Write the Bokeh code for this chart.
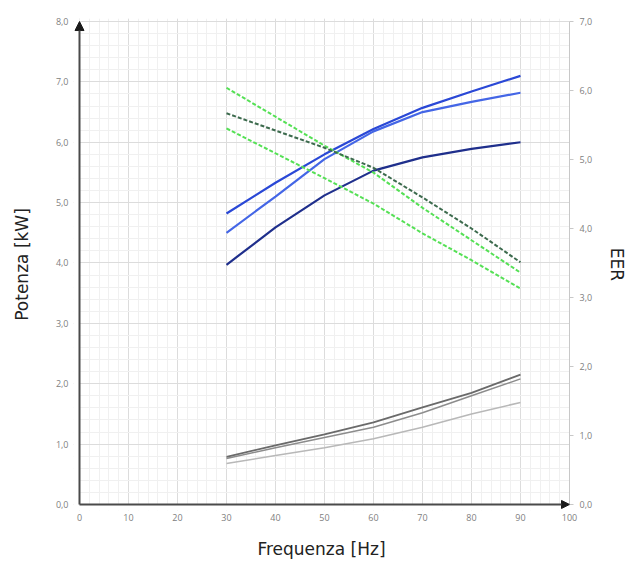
from bokeh.plotting import figure
from bokeh.models import (Range1d, LinearAxis, FixedTicker, Arrow, NormalHead,
                          BoxAnnotation)
from bokeh.embed import file_html
from bokeh.resources import INLINE

# ---- data ----
freq = [30, 40, 50, 60, 70, 80, 90]

# capacities / power [kW] (left axis)
blue_top = [4.82, 5.33, 5.80, 6.22, 6.57, 6.84, 7.10]
blue_mid = [4.50, 5.10, 5.72, 6.18, 6.50, 6.67, 6.82]
blue_dark = [3.97, 4.59, 5.12, 5.53, 5.75, 5.89, 6.00]

gray_dark = [0.79, 0.98, 1.16, 1.36, 1.61, 1.85, 2.15]
gray_mid = [0.76, 0.94, 1.11, 1.28, 1.52, 1.80, 2.08]
gray_light = [0.68, 0.81, 0.94, 1.09, 1.28, 1.50, 1.69]

# EER (right axis)
eer_green_top = [6.04, 5.62, 5.20, 4.81, 4.30, 3.83, 3.36]
eer_dark = [5.67, 5.42, 5.17, 4.88, 4.45, 4.00, 3.51]
eer_green_bot = [5.45, 5.09, 4.73, 4.36, 3.93, 3.54, 3.13]

x_ticks = [0, 10, 20, 30, 40, 50, 60, 70, 80, 90, 100]
left_ticks = [0, 1, 2, 3, 4, 5, 6, 7, 8]
left_labels = ["0,0", "1,0", "2,0", "3,0", "4,0", "5,0", "6,0", "7,0", "8,0"]
right_ticks = [0, 1, 2, 3, 4, 5, 6, 7]
right_labels = ["0,0", "1,0", "2,0", "3,0", "4,0", "5,0", "6,0", "7,0"]

TICK_FONT = "Open Sans"
TITLE_FONT = "DejaVu Sans"

# small margins around the axes so the arrowheads are not clipped
X_PAD = 6 / 4.9
Y_PAD_LOW = 0.1
Y_PAD_HIGH = 0.05
EER_SCALE = 7 / 8

p = figure(width=631, height=563, output_backend="svg", toolbar_location=None,
           x_range=Range1d(-X_PAD, 100),
           y_range=Range1d(-Y_PAD_LOW, 8 + Y_PAD_HIGH),
           min_border_left=73, min_border_right=62, min_border_top=18,
           min_border_bottom=53)
p.outline_line_color = None
p.background_fill_color = "white"
p.border_fill_color = "white"
p.extra_y_ranges = {"eer": Range1d(-Y_PAD_LOW * EER_SCALE,
                                   (8 + Y_PAD_HIGH) * EER_SCALE)}

# grid
p.xgrid.ticker = FixedTicker(ticks=x_ticks,
                             minor_ticks=[v for v in range(0, 101, 2)])
p.ygrid.ticker = FixedTicker(ticks=left_ticks,
                             minor_ticks=[i / 5 for i in range(0, 41)])
for g in (p.xgrid, p.ygrid):
    g.grid_line_color = "#dcdcdc"
    g.grid_line_width = 1
    g.minor_grid_line_color = "#f0f0f0"
    g.minor_grid_line_width = 1

# white masks outside the axes (cover grid overshoot)
p.add_layout(BoxAnnotation(right=0, fill_color="white", fill_alpha=1,
                           line_color=None, level="underlay"))
p.add_layout(BoxAnnotation(top=0, fill_color="white", fill_alpha=1,
                           line_color=None, level="underlay"))

# bottom axis
xa = p.xaxis[0]
xa.ticker = FixedTicker(ticks=x_ticks)
xa.axis_line_color = None
xa.major_tick_out = 0
xa.major_tick_in = 0
xa.minor_tick_out = 0
xa.minor_tick_in = 0
xa.major_label_text_font = TICK_FONT
xa.major_label_text_font_size = "9px"
xa.major_label_text_color = "#808080"
xa.major_label_standoff = 3
xa.axis_label = "Frequenza [Hz]"
xa.axis_label_text_font = TITLE_FONT
xa.axis_label_text_font_style = "normal"
xa.axis_label_text_font_size = "17px"
xa.axis_label_text_color = "#222222"
xa.axis_label_standoff = 15

# left axis
ya = p.yaxis[0]
ya.ticker = FixedTicker(ticks=left_ticks)
ya.major_label_overrides = dict(zip(left_ticks, left_labels))
ya.axis_line_color = None
ya.major_tick_out = 0
ya.major_tick_in = 0
ya.minor_tick_out = 0
ya.minor_tick_in = 0
ya.major_label_text_font = TICK_FONT
ya.major_label_text_font_size = "9px"
ya.major_label_text_color = "#808080"
ya.major_label_standoff = 5
ya.axis_label = "Potenza [kW]"
ya.axis_label_text_font = TITLE_FONT
ya.axis_label_text_font_style = "normal"
ya.axis_label_text_font_size = "17px"
ya.axis_label_text_color = "#222222"
ya.axis_label_standoff = 21

# right axis
ra = LinearAxis(y_range_name="eer", ticker=FixedTicker(ticks=right_ticks),
                bounds=(0, 7))
ra.major_label_overrides = dict(zip(right_ticks, right_labels))
ra.axis_line_color = "#c8c8c8"
ra.axis_line_width = 1
ra.major_tick_out = 4
ra.major_tick_in = 0
ra.major_tick_line_color = "#c8c8c8"
ra.minor_tick_out = 0
ra.minor_tick_in = 0
ra.major_label_text_font = TICK_FONT
ra.major_label_text_font_size = "9px"
ra.major_label_text_color = "#808080"
ra.major_label_standoff = 6
ra.axis_label = "EER"
ra.axis_label_text_font = TITLE_FONT
ra.axis_label_text_font_style = "normal"
ra.axis_label_text_font_size = "17px"
ra.axis_label_text_color = "#222222"
ra.axis_label_standoff = 12
p.add_layout(ra, "right")

# curves: power (left axis)
p.line(freq, gray_light, line_color="#b8b8b8", line_width=1.5)
p.line(freq, gray_mid, line_color="#8c8c8c", line_width=1.5)
p.line(freq, gray_dark, line_color="#6a6a6a", line_width=1.8)
p.line(freq, blue_dark, line_color="#1f2f8c", line_width=2.2)
p.line(freq, blue_mid, line_color="#4466e6", line_width=2.2)
p.line(freq, blue_top, line_color="#2a48d6", line_width=2.2)

# EER curves (right axis)
p.line(freq, eer_green_top, y_range_name="eer", line_color="#55e055",
       line_width=2, line_dash="4 2")
p.line(freq, eer_green_bot, y_range_name="eer", line_color="#55e055",
       line_width=2, line_dash="4 2")
p.line(freq, eer_dark, y_range_name="eer", line_color="#3d6b4e",
       line_width=2, line_dash="4 2")

# axis lines with arrowheads
p.add_layout(Arrow(x_start=0, y_start=0, x_end=0, y_end=8,
                   line_color="#4a4a4a", line_width=2,
                   end=NormalHead(size=9, fill_color="#1a1a1a",
                                  line_color="#1a1a1a")))
p.add_layout(Arrow(x_start=0, y_start=0, x_end=100, y_end=0,
                   line_color="#4a4a4a", line_width=2,
                   end=NormalHead(size=8, fill_color="#1a1a1a",
                                  line_color="#1a1a1a")))

open("out.html", "w").write(file_html(p, INLINE))
